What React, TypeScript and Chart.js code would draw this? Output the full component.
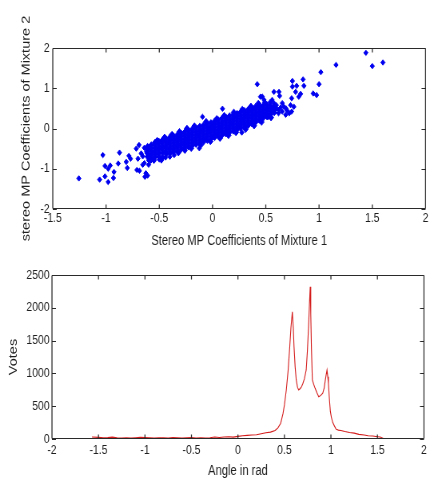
import React, { useEffect, useRef } from "react";
import { Chart, registerables } from "chart.js";

Chart.register(...registerables);

// ---------- Top plot: scatter of coefficients ----------
const scatterXTicks = [-1.5, -1, -0.5, 0, 0.5, 1, 1.5, 2];
const scatterYTicks = [-2, -1, 0, 1, 2];

// dense band: [x, list of y values]
const bandColumns: [number, number[]][] = [
  [-0.61, [-0.7, -0.62, -0.53, -0.45]],
  [-0.575, [-0.74, -0.66, -0.57, -0.49, -0.41]],
  [-0.54, [-0.71, -0.63, -0.56, -0.48, -0.4, -0.35]],
  [-0.505, [-0.69, -0.61, -0.53, -0.46, -0.38, -0.32]],
  [-0.47, [-0.72, -0.6, -0.51, -0.44, -0.36, -0.29]],
  [-0.435, [-0.64, -0.57, -0.48, -0.41, -0.33, -0.26]],
  [-0.4, [-0.61, -0.53, -0.46, -0.37, -0.29, -0.22]],
  [-0.365, [-0.58, -0.5, -0.42, -0.34, -0.27, -0.19]],
  [-0.33, [-0.55, -0.46, -0.39, -0.31, -0.24, -0.16]],
  [-0.295, [-0.51, -0.43, -0.36, -0.28, -0.2, -0.12]],
  [-0.26, [-0.48, -0.4, -0.32, -0.25, -0.17, -0.09]],
  [-0.225, [-0.45, -0.37, -0.29, -0.21, -0.13, -0.05]],
  [-0.19, [-0.42, -0.34, -0.26, -0.18, -0.1, -0.02]],
  [-0.155, [-0.39, -0.31, -0.23, -0.15, -0.07, 0.01]],
  [-0.12, [-0.36, -0.28, -0.2, -0.12, -0.04, 0.05]],
  [-0.085, [-0.33, -0.24, -0.16, -0.08, 0.0, 0.08]],
  [-0.05, [-0.29, -0.21, -0.13, -0.05, 0.03, 0.11]],
  [-0.015, [-0.26, -0.18, -0.1, -0.02, 0.06, 0.14]],
  [0.02, [-0.22, -0.14, -0.06, 0.02, 0.1, 0.18]],
  [0.055, [-0.19, -0.11, -0.03, 0.05, 0.13, 0.21]],
  [0.09, [-0.16, -0.08, 0.0, 0.08, 0.16, 0.25]],
  [0.125, [-0.13, -0.05, 0.03, 0.11, 0.19, 0.28]],
  [0.16, [-0.09, -0.01, 0.07, 0.15, 0.23, 0.31]],
  [0.195, [-0.06, 0.02, 0.1, 0.18, 0.26, 0.34]],
  [0.23, [-0.03, 0.05, 0.13, 0.21, 0.29, 0.37]],
  [0.265, [0.01, 0.09, 0.17, 0.25, 0.33, 0.41]],
  [0.3, [0.04, 0.12, 0.2, 0.28, 0.36, 0.44]],
  [0.335, [0.08, 0.16, 0.24, 0.32, 0.4, 0.47]],
  [0.37, [0.12, 0.2, 0.28, 0.35, 0.43, 0.5]],
  [0.405, [0.16, 0.24, 0.32, 0.39, 0.47, 0.54]],
  [0.44, [0.21, 0.29, 0.36, 0.43, 0.51, 0.58]],
  [0.475, [0.26, 0.33, 0.4, 0.47, 0.55]],
  [0.51, [0.3, 0.37, 0.44, 0.51, 0.59]],
  [0.545, [0.35, 0.42, 0.49, 0.56]],
  [0.58, [0.4, 0.47, 0.54]],
];

// ragged points along the edges of the band
const edgePoints: [number, number][] = [
  [-0.52, -0.3], [-0.45, -0.22], [-0.38, -0.15], [-0.31, -0.08], [-0.24, 0.0],
  [-0.17, 0.06], [-0.06, 0.17], [0.04, 0.24], [0.11, 0.32], [0.2, 0.4],
  [0.28, 0.47], [0.36, 0.55], [0.43, 0.62], [0.49, 0.64],
  [-0.55, -0.79], [-0.48, -0.78], [-0.32, -0.6], [-0.26, -0.54], [-0.2, -0.49],
  [-0.11, -0.41], [-0.02, -0.32], [0.07, -0.24], [0.15, -0.17], [0.22, -0.1],
  [0.31, -0.02], [0.39, 0.07], [0.46, 0.16], [0.55, 0.27],
];

// scattered points outside the band
const sparsePoints: [number, number][] = [
  [-1.255, -1.24], [-1.06, -1.27], [-1.03, -0.66], [-1.01, -0.93], [-0.98, -1.0],
  [-0.96, -0.92], [-1.01, -1.19], [-0.98, -1.33], [-0.93, -1.23], [-0.925, -1.08],
  [-0.873, -0.6], [-0.885, -0.87], [-0.81, -0.83], [-0.8, -0.98], [-0.785, -0.68],
  [-0.77, -0.75], [-0.716, -0.5], [-0.7, -0.75], [-0.71, -1.03], [-0.686, -1.05],
  [-0.69, -0.41], [-0.67, -0.62], [-0.655, -0.69], [-0.655, -0.9], [-0.64, -0.86],
  [-0.626, -1.11], [-0.635, -1.2], [-0.61, -1.17], [-0.6, -0.9], [-0.6, -0.79],
  [-0.62, -0.58], [-0.64, -0.48], [-0.58, -0.8], [-0.5, -0.77], [-0.44, -0.72],
  [-0.4, -0.7], [-0.36, -0.66], [-0.124, -0.49], [-0.094, 0.29], [0.094, 0.49],
  [0.275, -0.1], [0.42, 1.1], [0.45, 0.79], [0.468, 0.79], [0.484, 0.71],
  [0.56, 0.71], [0.577, 0.63], [0.577, 0.91], [0.624, 0.91], [0.63, 0.81],
  [0.655, 0.63], [0.67, 0.54], [0.743, 0.75], [0.733, 0.58], [0.743, 0.42],
  [0.655, 0.42], [0.687, 0.34], [0.764, 0.54], [0.75, 1.18], [0.75, 1.04],
  [0.79, 1.06], [0.78, 0.91], [0.827, 0.86], [0.81, 0.79], [0.85, 1.22],
  [0.858, 1.06], [0.945, 0.87], [0.977, 0.83], [1.0, 1.1], [1.017, 1.4],
  [1.16, 1.58], [1.44, 1.88], [1.5, 1.55], [1.6, 1.64], [0.6, 0.5],
  [0.62, 0.38], [0.7, 0.45], [0.72, 0.38], [0.6, 0.58], [0.64, 0.52],
  [0.54, 0.65], [0.52, 0.28], [0.62, 0.46], [0.69, 0.5],
];

// ---------- Bottom plot: votes vs angle ----------
const angleTicks = [-2, -1.5, -1, -0.5, 0, 0.5, 1, 1.5, 2];
const voteTicks = [0, 500, 1000, 1500, 2000, 2500];
const angles = [
  -1.57, -1.5, -1.45, -1.4, -1.35, -1.3, -1.25, -1.2, -1.15, -1.1, -1.05, -1.0,
  -0.95, -0.9, -0.85, -0.8, -0.75, -0.7, -0.65, -0.6, -0.55, -0.5, -0.45, -0.4,
  -0.35, -0.3, -0.25, -0.2, -0.15, -0.1, -0.05, 0.0, 0.05, 0.1, 0.15, 0.2, 0.25,
  0.3, 0.35, 0.4, 0.43, 0.46, 0.485, 0.5, 0.52, 0.54, 0.557, 0.57, 0.585, 0.595,
  0.603, 0.615, 0.627, 0.64, 0.653, 0.67, 0.685, 0.699, 0.715, 0.734, 0.747,
  0.759, 0.77, 0.777, 0.783, 0.79, 0.8, 0.815, 0.83, 0.85, 0.869, 0.89, 0.912,
  0.928, 0.94, 0.95, 0.958, 0.966, 0.973, 0.984, 0.994, 1.005, 1.02, 1.037,
  1.055, 1.08, 1.107, 1.15, 1.2, 1.25, 1.3, 1.357, 1.4, 1.45, 1.5, 1.53, 1.57,
];
const votes = [
  30, 25, 20, 22, 28, 18, 15, 18, 15, 20, 25, 22,
  18, 15, 20, 18, 15, 22, 18, 15, 18, 22, 15, 18,
  15, 20, 30, 22, 30, 35, 28, 40, 50, 55, 60, 65, 80,
  95, 105, 130, 170, 240, 390, 520, 747, 1050, 1407, 1700, 1940, 1700,
  1407, 1100, 900, 790, 747, 770, 800, 849, 920, 1052, 1350,
  1712, 2100, 2322, 1900, 1400, 900, 830, 772, 700, 645, 665, 697,
  780, 900, 990, 1052, 950, 849, 600, 420, 330, 250, 200,
  150, 135, 130, 115, 100, 90, 70, 60, 50, 45, 35, 30, 5,
];

// The figure is horizontally compressed (like a resized MATLAB figure):
// canvases are drawn wider and shown at the page width.
const PAGE_W = 430;
const DRAW_W = 538;
const K = PAGE_W / DRAW_W;

const FONT = "'Liberation Sans', Arial, sans-serif";
const TEXT_COLOR = "#1e1e1e";
const AXIS_COLOR = "#2a2a2a";
const MARKER_BLUE = "#0000f0";

const fmt = (v: any) => String(Math.round(Number(v) * 100) / 100);

const matlabBox = {
  id: "matlabBox",
  afterDraw(chart: any) {
    const { ctx, chartArea: a, scales } = chart;
    const xs = scales.x;
    const ys = scales.y;
    const L = a.left;
    const R = a.right;
    const T = Math.round(a.top) + 0.5;
    const B = Math.round(a.bottom) - 0.5;
    const lenV = 4;
    const lenH = 4 / K;
    ctx.save();
    ctx.strokeStyle = AXIS_COLOR;
    ctx.lineWidth = 1;
    ctx.beginPath();
    ctx.moveTo(L, T);
    ctx.lineTo(R, T);
    ctx.moveTo(L, B);
    ctx.lineTo(R, B);
    ys.ticks.forEach((t: any) => {
      const p = Math.round(ys.getPixelForValue(t.value)) + 0.5;
      ctx.moveTo(L, p);
      ctx.lineTo(L + lenH, p);
      ctx.moveTo(R, p);
      ctx.lineTo(R - lenH, p);
    });
    ctx.stroke();
    ctx.lineWidth = 1 / K;
    ctx.beginPath();
    ctx.moveTo(L, T);
    ctx.lineTo(L, B);
    ctx.moveTo(R, T);
    ctx.lineTo(R, B);
    xs.ticks.forEach((t: any) => {
      const p = xs.getPixelForValue(t.value);
      ctx.moveTo(p, B);
      ctx.lineTo(p, B - lenV);
      ctx.moveTo(p, T);
      ctx.lineTo(p, T + lenV);
    });
    ctx.stroke();
    ctx.restore();
  },
};

function axis(opts: {
  min: number;
  max: number;
  ticks: number[];
  title: string;
  titleSize: number;
  titlePadding: any;
  tickPadding: number;
  fit: (s: any) => void;
}) {
  return {
    type: "linear",
    min: opts.min,
    max: opts.max,
    afterBuildTicks: (s: any) => {
      s.ticks = opts.ticks.map((v) => ({ value: v }));
    },
    ticks: {
      callback: fmt,
      padding: opts.tickPadding,
      color: TEXT_COLOR,
      font: { family: FONT, size: 13 },
      maxRotation: 0,
      minRotation: 0,
      autoSkip: false,
    },
    grid: { display: false, drawTicks: false },
    border: { display: false },
    title: {
      display: true,
      text: opts.title,
      color: TEXT_COLOR,
      font: { family: FONT, size: opts.titleSize },
      padding: opts.titlePadding,
    },
    afterFit: opts.fit,
  };
}

function TopChart() {
  const ref = useRef<HTMLCanvasElement>(null);
  useEffect(() => {
    if (!ref.current) return;
    const band: { x: number; y: number }[] = [];
    bandColumns.forEach(([x, ys]) => ys.forEach((y) => band.push({ x, y })));
    edgePoints.forEach(([x, y]) => band.push({ x, y }));
    const sparse = sparsePoints.map(([x, y]) => ({ x, y }));
    const markerStyle = {
      pointStyle: "rectRot",
      pointBorderWidth: 1,
      backgroundColor: MARKER_BLUE,
      borderColor: MARKER_BLUE,
    };
    const chart = new Chart(ref.current, {
      type: "scatter",
      data: {
        datasets: [
          { data: band, pointRadius: 3.3, ...markerStyle } as any,
          { data: sparse, pointRadius: 2.7, ...markerStyle } as any,
        ],
      },
      options: {
        responsive: false,
        animation: false,
        events: [],
        layout: { padding: { top: 48, right: 4, left: 0, bottom: 0 } },
        plugins: { legend: { display: false }, tooltip: { enabled: false } },
        scales: {
          x: axis({
            min: -1.5,
            max: 2,
            ticks: scatterXTicks,
            title: "Stereo MP Coefficients of Mixture 1",
            titleSize: 14,
            titlePadding: { top: 0, bottom: 0 },
            tickPadding: 2,
            fit: (s: any) => {
              s.height = 41;
            },
          }),
          y: axis({
            min: -2,
            max: 2,
            ticks: scatterYTicks,
            title: "stereo MP Coefficients of Mixture 2",
            titleSize: 14.5,
            titlePadding: { top: 24, bottom: 0 },
            tickPadding: 4,
            fit: (s: any) => {
              s.width = 66;
            },
          }),
        } as any,
      },
      plugins: [matlabBox],
    });
    return () => chart.destroy();
  }, []);
  return (
    <canvas
      ref={ref}
      width={DRAW_W}
      height={250}
      style={{ display: "block", width: PAGE_W, height: 250 }}
    />
  );
}

function BottomChart() {
  const ref = useRef<HTMLCanvasElement>(null);
  useEffect(() => {
    if (!ref.current) return;
    const pts = angles.map((a, i) => ({ x: a, y: votes[i] }));
    const chart = new Chart(ref.current, {
      type: "line",
      data: {
        datasets: [
          {
            data: pts,
            borderColor: "#d41c1c",
            borderWidth: 1.1,
            pointRadius: 0,
            tension: 0,
            fill: false,
          } as any,
        ],
      },
      options: {
        responsive: false,
        animation: false,
        events: [],
        layout: { padding: { top: 25, right: 4, left: 0, bottom: 0 } },
        plugins: { legend: { display: false }, tooltip: { enabled: false } },
        scales: {
          x: axis({
            min: -2,
            max: 2,
            ticks: angleTicks,
            title: "Angle in rad",
            titleSize: 14,
            titlePadding: { top: 0, bottom: 3 },
            tickPadding: 4,
            fit: (s: any) => {
              s.height = 44;
            },
          }),
          y: axis({
            min: 0,
            max: 2500,
            ticks: voteTicks,
            title: "Votes",
            titleSize: 14.5,
            titlePadding: { top: 8, bottom: 0 },
            tickPadding: 3,
            fit: (s: any) => {
              s.width = 65;
            },
          }),
        } as any,
      },
      plugins: [matlabBox],
    });
    return () => chart.destroy();
  }, []);
  return (
    <canvas
      ref={ref}
      width={DRAW_W}
      height={233}
      style={{ display: "block", width: PAGE_W, height: 233 }}
    />
  );
}

export default function App() {
  return (
    <div
      style={{
        position: "absolute",
        left: 0,
        top: 0,
        width: PAGE_W,
        height: 483,
        background: "#ffffff",
      }}
    >
      <TopChart />
      <BottomChart />
    </div>
  );
}
